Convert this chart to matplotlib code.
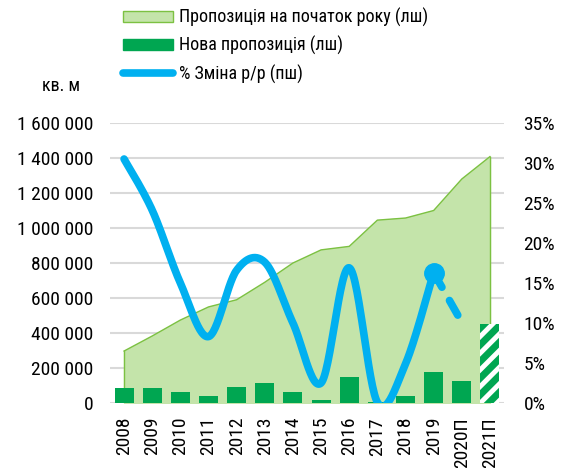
import numpy as np
import matplotlib.pyplot as plt
from matplotlib import font_manager as fm
from matplotlib.patches import Patch
from matplotlib.lines import Line2D

# pick a narrow sans font if one is around
have = set(f.name for f in fm.fontManager.ttflist)
font = 'Liberation Sans'
for cand in ['Liberation Sans Narrow', 'Arial Narrow', 'Roboto Condensed',
             'PT Sans Narrow', 'Fira Sans Condensed', 'IBM Plex Sans Condensed']:
    if cand in have:
        font = cand
        break
plt.rcParams['font.family'] = [font, 'DejaVu Sans']
plt.rcParams['hatch.linewidth'] = 3.5

years = ['2008', '2009', '2010', '2011', '2012', '2013', '2014', '2015',
         '2016', '2017', '2018', '2019', '2020П', '2021П']
stock = [297000, 383000, 474000, 549000, 590000, 690000, 800000, 875000,
         895000, 1045000, 1057000, 1100000, 1280000, 1408000]
new_supply = [85000, 87000, 63000, 39000, 92000, 116000, 63000, 16000,
              149000, 4000, 41000, 175000, 128000, 451000]
growth = [30.5, 24.1, 15.0, 8.3, 16.6, 17.6, 10.0, 2.5, 16.9, 0.1, 4.9, 16.3, 10.1]

c_area = '#c4e4aa'
c_edge = '#7cc142'
c_bar = '#00a651'
c_line = '#00b0f0'
fs = 14


def smooth(xs, ys, n=30):
    # bezier smoothing like excel's "smoothed line"
    xs = np.asarray(xs, float)
    ys = np.asarray(ys, float)
    px, py = [], []
    for i in range(len(xs) - 1):
        x0, y0 = (xs[i - 1], ys[i - 1]) if i > 0 else (xs[i], ys[i])
        x3, y3 = (xs[i + 2], ys[i + 2]) if i + 2 < len(xs) else (xs[i + 1], ys[i + 1])
        c1x = xs[i] + (xs[i + 1] - x0) / 6
        c1y = ys[i] + (ys[i + 1] - y0) / 6
        c2x = xs[i + 1] - (x3 - xs[i]) / 6
        c2y = ys[i + 1] - (y3 - ys[i]) / 6
        t = np.linspace(0, 1, n)
        px.extend((1 - t) ** 3 * xs[i] + 3 * (1 - t) ** 2 * t * c1x + 3 * (1 - t) * t ** 2 * c2x + t ** 3 * xs[i + 1])
        py.extend((1 - t) ** 3 * ys[i] + 3 * (1 - t) ** 2 * t * c1y + 3 * (1 - t) * t ** 2 * c2y + t ** 3 * ys[i + 1])
    return px, py


fig = plt.figure(figsize=(5.71, 4.68), dpi=100)
ax = fig.add_axes([110 / 571, 1 - 403 / 468, 394 / 571, 280 / 468])
x = np.arange(len(years))

ax.fill_between(x, stock, color=c_area, zorder=1)
ax.plot(x, stock, color=c_edge, lw=1, zorder=2)
ax.plot([x[0], x[0]], [0, stock[0]], color=c_edge, lw=1, zorder=2)
ax.plot([x[-1], x[-1]], [0, stock[-1]], color=c_edge, lw=1, zorder=2)

ax.bar(x[:-1], new_supply[:-1], width=0.68, color=c_bar, zorder=3)
ax.bar(x[-1], new_supply[-1], width=0.68, color=c_bar, edgecolor='white',
       hatch='//', linewidth=0, zorder=3)

ax.set_xlim(-0.5, len(years) - 0.5)
ax.set_ylim(0, 1600000)
ax.set_yticks(np.arange(0, 1600001, 200000))
ax.set_yticklabels(['{:,}'.format(v).replace(',', ' ') for v in range(0, 1600001, 200000)])
ax.set_xticks(x)
ax.set_xticklabels(years, rotation=90)
ax.grid(axis='y', color='#d9d9d9', lw=1.5, zorder=0)
ax.set_axisbelow(True)
for s in ax.spines.values():
    s.set_visible(False)
ax.tick_params(axis='both', length=0, labelsize=fs, colors='black')
ax.tick_params(axis='y', pad=12)
ax.tick_params(axis='x', pad=10)

ax2 = ax.twinx()
ax2.set_ylim(0, 35)
ax2.set_yticks(np.arange(0, 36, 5))
ax2.set_yticklabels(['{}%'.format(v) for v in range(0, 36, 5)])
for s in ax2.spines.values():
    s.set_visible(False)
ax2.tick_params(axis='y', length=0, labelsize=fs, pad=14)

sx, sy = smooth(x[:12], growth[:12])
ax2.plot(sx, sy, color=c_line, lw=5.5, solid_capstyle='round', zorder=4)
ax2.plot(x[11:13], growth[11:13], color=c_line, lw=5.5, dashes=(2.2, 2.0),
         dash_capstyle='round', zorder=4)
ax2.plot(x[11], growth[11], 'o', color=c_line, ms=14, zorder=5)

handles = [Patch(facecolor=c_area, edgecolor=c_edge, lw=1),
           Patch(facecolor=c_bar, edgecolor=c_bar),
           Line2D([], [], color=c_line, lw=5.5, solid_capstyle='round')]
labels = ['Пропозиція на початок року (лш)', 'Нова пропозиція (лш)', '% Зміна р/р (пш)']
fig.legend(handles, labels, loc='upper left', bbox_to_anchor=(123 / 571, 1 - 8 / 468),
           frameon=False, fontsize=13, handlelength=2.75, handleheight=0.6,
           handletextpad=0.35, labelspacing=0.5, borderpad=0, borderaxespad=0)

fig.text(42 / 571, 1 - 86 / 468, 'кв. м', fontsize=13, va='center', ha='left')

fig.savefig('out.png', dpi=100)
